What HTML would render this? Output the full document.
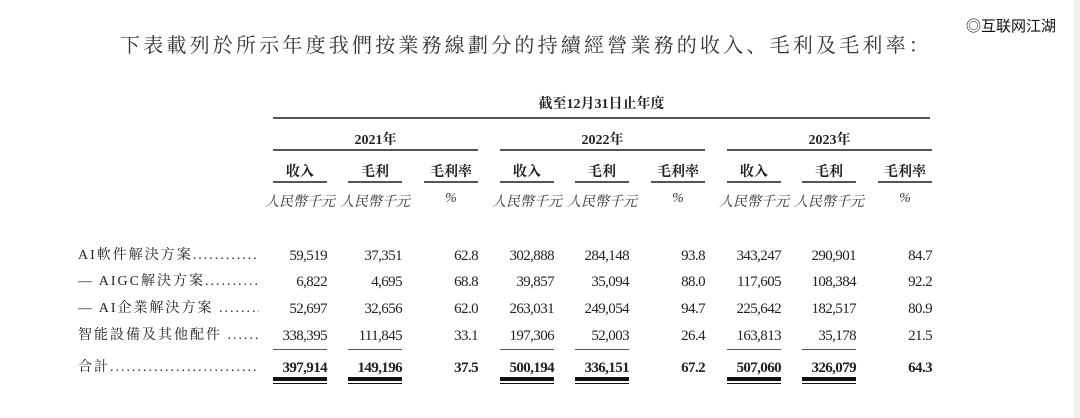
<!DOCTYPE html>
<html><head><meta charset="utf-8"><style>
body{margin:0;width:1080px;height:418px;background:#fff;position:relative;overflow:hidden;font-family:"Liberation Serif","Noto Serif CJK SC",serif;color:#222}
.a{position:absolute;white-space:nowrap}
.t{left:120px;top:29px;font-size:20px;letter-spacing:3.2px;color:#333}
.wm{left:966px;top:15px;font-size:15px;font-family:"Liberation Sans","Noto Sans CJK SC",sans-serif;color:#111}
.h{font-weight:bold;font-size:14px;text-align:center}
.ln{position:absolute;height:2px;background:#555}
.u{font-style:italic;font-size:14px;text-align:center;color:#333}
.n{font-size:15px;text-align:right;letter-spacing:-0.6px;line-height:18px}
.b{font-weight:bold}
.l{left:78px;width:181px;overflow:hidden;font-size:14px;line-height:18px;letter-spacing:2px}
.bar{position:absolute;right:0;top:0;width:6px;height:418px;background:#f0f0f0}
</style></head><body>
<div class="a t">下表載列於所示年度我們按業務線劃分的持續經營業務的收入、毛利及毛利率：</div>
<div class="a wm">◎互联网江湖</div>
<div class="bar"></div>
<div class="a h" style="left:273px;width:657px;top:93px">截至12月31日止年度</div>
<div class="ln" style="left:273px;width:657px;top:117px"></div>

<div id="g"></div>
<script>
var html='';
var gx=[273,500,727],yr=['2021年','2022年','2023年'];
var data=[
[['59,519','37,351','62.8'],['302,888','284,148','93.8'],['343,247','290,901','84.7']],
[['6,822','4,695','68.8'],['39,857','35,094','88.0'],['117,605','108,384','92.2']],
[['52,697','32,656','62.0'],['263,031','249,054','94.7'],['225,642','182,517','80.9']],
[['338,395','111,845','33.1'],['197,306','52,003','26.4'],['163,813','35,178','21.5']],
[['397,914','149,196','37.5'],['500,194','336,151','67.2'],['507,060','326,079','64.3']]];
var ry=[247,273,300,327,359];
var dots='..................................................';
var labels=['AI軟件解決方案','— AIGC解決方案','— AI企業解決方案 ','智能設備及其他配件 ','合計'];
for(var i=0;i<5;i++){html+='<div class="a l" style="top:'+ry[i]+'px">'+labels[i]+dots+'</div>';}
for(var g=0;g<3;g++){
 var x=gx[g];
 html+='<div class="a h" style="left:'+x+'px;width:205px;top:129px">'+yr[g]+'</div>';
 html+='<div class="ln" style="left:'+x+'px;width:205px;top:149px"></div>';
 var cx=[x,x+75,x+151],hd=['收入','毛利','毛利率'],un=['人民幣千元','人民幣千元','%'];
 for(var c=0;c<3;c++){
  html+='<div class="a h" style="left:'+(cx[c]-4)+'px;width:62px;top:161px">'+hd[c]+'</div>';
  html+='<div class="ln" style="left:'+cx[c]+'px;width:54px;top:181px"></div>';
  html+='<div class="a u" style="left:'+(cx[c]-10)+'px;width:74px;top:191px">'+un[c]+'</div>';
  for(var r=0;r<5;r++){
   html+='<div class="a n'+(r==4?' b':'')+'" style="left:'+(cx[c]-20)+'px;width:74px;top:'+(ry[r])+'px">'+data[r][g][c]+'</div>';
  }
  if(c<2){
   html+='<div class="ln" style="left:'+cx[c]+'px;width:54px;top:349px;height:1px"></div>';
   html+='<div class="ln" style="left:'+cx[c]+'px;width:54px;top:377px;height:4px;background:#111"></div>';
   html+='<div class="ln" style="left:'+cx[c]+'px;width:54px;top:383px;height:1px;background:#111"></div>';
  }
 }
}
document.getElementById('g').innerHTML=html;
</script>
</body></html>
